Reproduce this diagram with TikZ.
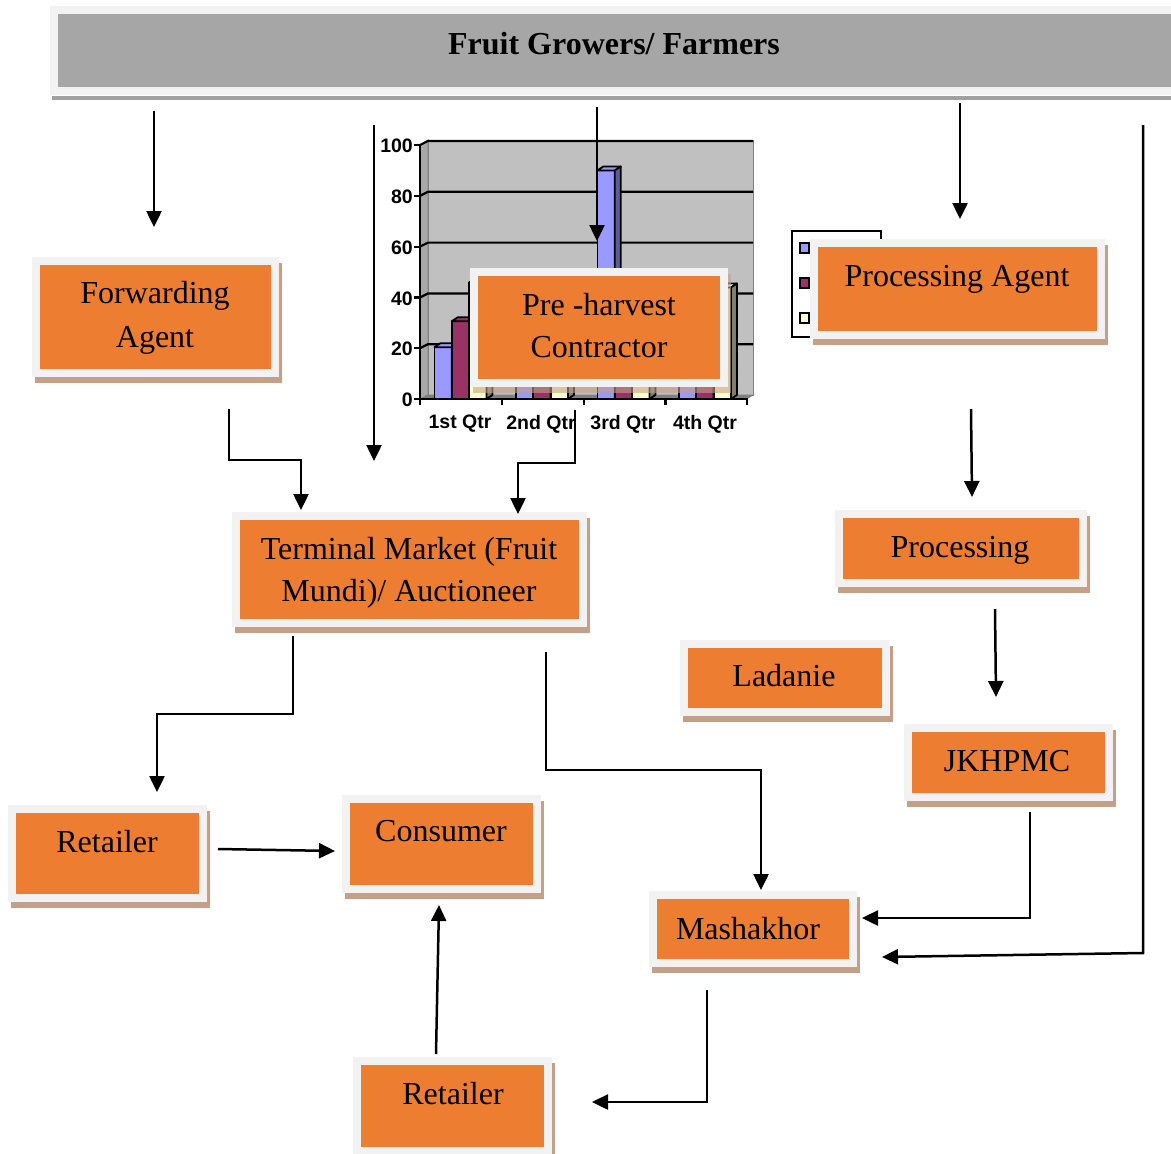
\documentclass[tikz,border=0pt]{standalone}
\usepackage{fontspec}
\setmainfont{Liberation Serif}
\newfontfamily\chartfont{Liberation Sans}
\usetikzlibrary{arrows.meta}
\definecolor{org}{HTML}{ED7D31}
\definecolor{frm}{HTML}{F2F2F2}
\definecolor{shd}{HTML}{C4A088}
\definecolor{hdr}{HTML}{A6A6A6}
\definecolor{hdrsh}{HTML}{A0A0A0}
\definecolor{wall}{HTML}{C0C0C0}
\definecolor{lwall}{HTML}{A8A8A8}
\definecolor{floorc}{HTML}{808080}
\definecolor{bblue}{HTML}{9999FF}
\definecolor{bblues}{HTML}{5C5C99}
\definecolor{bmar}{HTML}{993366}
\definecolor{bmars}{HTML}{4D1A33}
\definecolor{byel}{HTML}{FFFFCC}
\definecolor{byels}{HTML}{80806A}
\tikzset{
  conn/.style={line width=2.5pt, -{Triangle[length=16pt,width=15pt]}},
  btxt/.style={font=\fontsize{32}{43}\selectfont, inner sep=0pt, anchor=base},
  orangebox/.style={fill=org, inner sep=0pt, outer sep=0pt, anchor=north west},
  clab/.style={font=\chartfont\bfseries\fontsize{19.5}{21}\selectfont, inner sep=0pt},
  barline/.style={draw=black, line width=1.8pt, line join=round},
}
\newcommand\obox[6][]{%
  \fill[shd,#1] (#3+3,#4+6) rectangle (#5+3,#6+6);
  \fill[frm] (#3,#4) rectangle (#5,#6);
  \pgfmathsetmacro\obw{#5-#3-16}\pgfmathsetmacro\obh{#6-#4-16}
  \node[orangebox, minimum width=\obw pt, minimum height=\obh pt] (#2) at (#3+8,#4+8) {};
}
\newcommand\cbar[4]{%
  \pgfmathsetmacro\yt{399-#3*2.54}
  \filldraw[fill=#4, barline] (#1,\yt) rectangle (#1+#2,399);
  \filldraw[fill=#4, barline] (#1,\yt) -- (#1+6,\yt-4) -- (#1+#2+6,\yt-4) -- (#1+#2,\yt) -- cycle;
  \filldraw[fill=#4s, barline] (#1+#2,\yt) -- (#1+#2+6,\yt-4) -- (#1+#2+6,395) -- (#1+#2,399) -- cycle;
}
\begin{document}
\begin{tikzpicture}[x=1pt,y=-1pt]
\useasboundingbox (0,0) rectangle (1171,1154);

% ---------- header ----------
\fill[hdrsh] (52,96) rectangle (1171,100);
\fill[frm] (50,6) rectangle (1171,95);
\node[fill=hdr, anchor=north west, minimum width=1113pt, minimum height=73pt, inner sep=0pt] (hd) at (58,14) {};
\node[font=\bfseries\fontsize{32}{38}\selectfont, anchor=base, inner sep=0pt] (hdt) at (614,54) {Fruit Growers/ Farmers};

% ---------- chart ----------
\filldraw[fill=wall, draw=floorc, line width=1pt] (428,140) rectangle (753,395);
\filldraw[fill=lwall, draw=floorc, line width=1pt] (420,145) -- (428,140) -- (428,395) -- (420,399) -- cycle;
\filldraw[fill=floorc, draw=floorc, line width=1pt] (420,399) -- (428,395) -- (753,395) -- (746,399) -- cycle;
\foreach \v in {20,40,60,80,100} {
  \draw[line width=2.2pt] (420,399-\v*2.54) -- (428,395-\v*2.54) -- (753,395-\v*2.54);
}
\foreach \k/\a/\b/\c in {0/20.4/30.6/45.9, 1/27.4/38.6/46.9, 2/90/34.6/45, 3/20.4/31.6/43.9} {
  \pgfmathsetmacro\cx{460.5+81.5*\k-26}
  \cbar{\cx}{17.3}{\a}{bblue}
  \cbar{\cx+17.3}{17.3}{\b}{bmar}
  \cbar{\cx+34.6}{17.3}{\c}{byel}
}
\draw[line width=2.6pt] (420,145) -- (420,399) -- (748,399);
\foreach \v in {0,20,40,60,80,100} {
  \draw[line width=2.2pt] (414,399-\v*2.54) -- (420,399-\v*2.54);
  \node[clab, anchor=east] (yl\v) at (413,400-\v*2.54) {\v};
}
\foreach \k in {0,1,2,3,4} {
  \draw[line width=2.2pt] (420+81.8*\k,399) -- (420+81.8*\k,405);
}
\node[clab] (cq1) at (460,424) {1st Qtr};
\node[clab] (cq2) at (541,424) {2nd Qtr};
\node[clab] (cq3) at (623,424) {3rd Qtr};
\node[clab] (cq4) at (705,424) {4th Qtr};

% legend (mostly hidden)
\filldraw[fill=white, draw=black, line width=1.8pt] (792,231) rectangle (881,337);
\filldraw[fill=bblue, draw=black, line width=1.5pt] (800,243) rectangle (809,253);
\filldraw[fill=bmar, draw=black, line width=1.5pt] (800,278) rectangle (809,288);
\filldraw[fill=byel, draw=black, line width=1.5pt] (800,313) rectangle (809,323);

% ---------- boxes ----------
\obox{fa}{32}{257}{279}{377}
\obox[opacity=0.6]{ph}{470}{268}{728}{387}
\obox{pa}{810}{239}{1105}{339}
\obox{tm}{232}{512}{587}{627}
\obox{pr}{835}{510}{1087}{587}
\obox{la}{680}{640}{890}{716}
\obox{jk}{904}{724}{1113}{801}
\obox{ra}{8}{805}{207}{902}
\obox{co}{342}{795}{541}{893}
\obox{rb}{353}{1057}{552}{1155}
\obox{ma}{649}{891}{857}{967}

\node[btxt] (fat1) at (155,303) {Forwarding};
\node[btxt] (fat2) at (155,347) {Agent};
\node[btxt] (pht1) at (599,315) {Pre -harvest};
\node[btxt] (pht2) at (599,357) {Contractor};
\node[btxt] (pat) at (957,286) {Processing Agent};
\node[btxt] (tmt1) at (409,559) {Terminal Market (Fruit};
\node[btxt] (tmt2) at (409,601) {Mundi)/ Auctioneer};
\node[btxt] (prt) at (960,557) {Processing};
\node[btxt] (lat) at (784,686) {Ladanie};
\node[btxt] (jkt) at (1007,771) {JKHPMC};
\node[btxt] (rat) at (107,852) {Retailer};
\node[btxt] (cot) at (441,841) {Consumer};
\node[btxt] (rbt) at (453,1104) {Retailer};
\node[btxt] (mat) at (748,939) {Mashakhor};

% ---------- connectors ----------
\coordinate (s1) at (154,111);  \coordinate (e1) at (154,227);
\coordinate (s2) at (374,125);  \coordinate (e2) at (374,461);
\coordinate (s3) at (597,107);  \coordinate (e3) at (597,241);
\coordinate (s4) at (960,103);  \coordinate (e4) at (960,219);
\coordinate (s5) at (1143,125); \coordinate (e5) at (882,957);
\coordinate (s6) at (229,409);  \coordinate (e6) at (301,510);
\coordinate (s7) at (575,410);  \coordinate (e7) at (518,514);
\coordinate (s8) at (971,409);  \coordinate (e8) at (972,497);
\coordinate (s9) at (995,609);  \coordinate (e9) at (996,697);
\coordinate (s10) at (293,636); \coordinate (e10) at (157,792);
\coordinate (s11) at (546,652); \coordinate (e11) at (761,890);
\coordinate (s12) at (1030,812); \coordinate (e12) at (862,918);
\coordinate (s13) at (218,849); \coordinate (e13) at (335,851);
\coordinate (s14) at (436,1054); \coordinate (e14) at (439,905);
\coordinate (s15) at (707,990); \coordinate (e15) at (592,1102);

\draw[conn] (s1) -- (e1);
\draw[conn] (s2) -- (e2);
\draw[conn] (s3) -- (e3);
\draw[conn] (s4) -- (e4);
\draw[conn] (s5) -- ++(0,828) -- (e5);
\draw[conn] (s6) -- ++(0,51) -| (e6);
\draw[conn] (s7) -- ++(0,53) -| (e7);
\draw[conn] (s8) -- (e8);
\draw[conn] (s9) -- (e9);
\draw[conn] (s10) -- ++(0,78) -| (e10);
\draw[conn] (s11) -- ++(0,118) -| (e11);
\draw[conn] (s12) |- (e12);
\draw[conn] (s13) -- (e13);
\draw[conn] (s14) -- (e14);
\draw[conn] (s15) |- (e15);
\end{tikzpicture}
\end{document}
